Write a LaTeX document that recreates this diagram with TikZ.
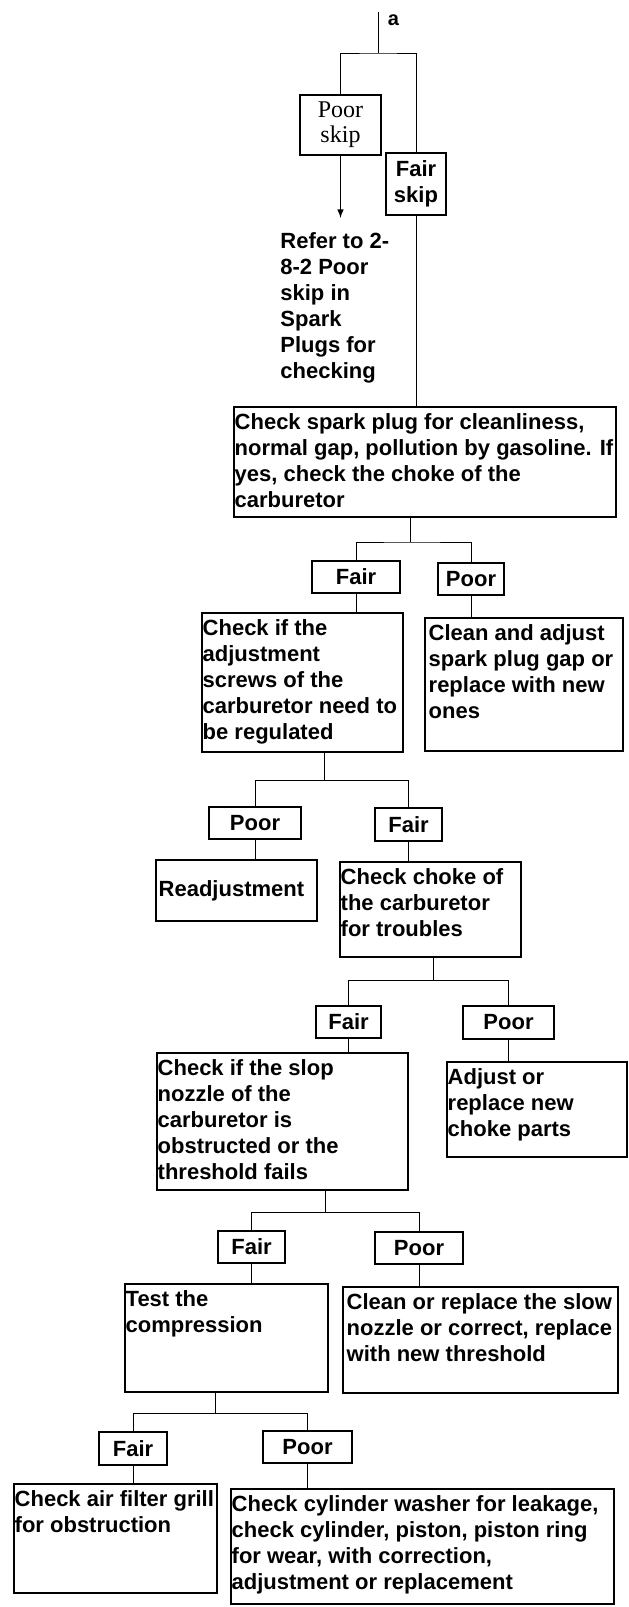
\documentclass[tikz,border=0pt]{standalone}
\usepackage{fontspec}
\setmainfont{Liberation Serif}
\setsansfont{Liberation Sans}
\usetikzlibrary{fit}

\begin{document}
\begin{tikzpicture}[x=0.5pt,y=-0.5pt,
	box/.style={draw, line width=0.7pt, inner sep=0pt},
	tag/.style={draw, line width=0.7pt, inner sep=0pt, align=center, font=\sffamily\bfseries\fontsize{11}{13}\selectfont},
	txt/.style={anchor=north west, align=left, inner xsep=0.5pt, inner ysep=3.5pt, font=\sffamily\bfseries\fontsize{11}{13}\selectfont},
	wire/.style={line width=0.5pt}]

\useasboundingbox (0,0) rectangle (628,1607);

% start
\coordinate (a0) at (378,12);
\coordinate (j0) at (378,53);
\node[inner sep=0pt, font=\sffamily\bfseries\fontsize{10}{12}\selectfont] (lbla) at (393.5,20) {a};

\node[tag, minimum width=40.5pt, minimum height=30pt, font=\rmfamily\fontsize{12}{12.5}\selectfont] (pskip) at (340.5,125) {Poor\\skip};
\node[tag, minimum width=30pt, minimum height=31pt] (fskip) at (416,184) {Fair\\skip};

\coordinate (rtip) at (340.5,218);
\node[txt] (refer) at (279,225) {Refer to 2-\\8-2 Poor\\skip in\\Spark\\Plugs for\\checking};

\draw[wire] (a0) -- (j0);
\draw[wire] (pskip.north) |- (j0) -| (fskip.north);
\draw[wire,-latex] (pskip.south) -- (rtip);

% spark plug
\node[box, fit={(234,407) (616,517)}] (chk1) {};
\node[txt] (chk1t) at (chk1.north west) {Check spark plug for cleanliness,\\normal gap, pollution by gasoline. If\\yes, check the choke of the\\carburetor};
\draw[wire] (fskip.south) -- (fskip.south |- chk1.north);

\coordinate (j1) at (410,542);
\node[tag, minimum width=44pt, minimum height=16pt] (fair1) at (356,577) {Fair};
\node[tag, minimum width=33pt, minimum height=16pt] (poor1) at (471,579) {Poor};
\draw[wire] (j1 |- chk1.south) -- (j1);
\draw[wire] (fair1.north) |- (j1) -| (poor1.north);

\node[box, fit={(202,613) (403,752)}] (adj) {};
\node[txt] (adjt) at (adj.north west) {Check if the\\adjustment\\screws of the\\carburetor need to\\be regulated};
\node[box, fit={(425,618) (623,751)}] (clean1) {};
\node[txt] (clean1t) at ([xshift=1.5pt]clean1.north west) {Clean and adjust\\spark plug gap or\\replace with new\\ones};
\draw[wire] (fair1.south) -- (fair1.south |- adj.north);
\draw[wire] (poor1.south) -- (poor1.south |- clean1.north);

% adjustment screws
\coordinate (j2) at (324,780);
\node[tag, minimum width=46pt, minimum height=16pt] (poor2) at (255,823) {Poor};
\node[tag, minimum width=33.5pt, minimum height=16.5pt] (fair2) at (408.5,824.5) {Fair};
\draw[wire] (j2 |- adj.south) -- (j2);
\draw[wire] (poor2.north) |- (j2) -| (fair2.north);

\node[box, fit={(156,860) (317,921)}] (readj) {};
\node[txt, anchor=west] (readjt) at ([xshift=1pt]readj.west) {Readjustment};
\node[box, fit={(340,862) (521,957)}] (choke) {};
\node[txt] (choket) at (choke.north west) {Check choke of\\the carburetor\\for troubles};
\draw[wire] (poor2.south) -- (poor2.south |- readj.north);
\draw[wire] (fair2.south) -- (fair2.south |- choke.north);

% choke
\coordinate (j3) at (433,980);
\node[tag, minimum width=32.5pt, minimum height=16pt] (fair3) at (348.5,1022) {Fair};
\node[tag, minimum width=45.5pt, minimum height=16.5pt] (poor3) at (508.5,1022.5) {Poor};
\draw[wire] (j3 |- choke.south) -- (j3);
\draw[wire] (fair3.north) |- (j3) -| (poor3.north);

\node[box, fit={(157,1053) (408,1190)}] (slop) {};
\node[txt] (slopt) at (slop.north west) {Check if the slop\\nozzle of the\\carburetor is\\obstructed or the\\threshold fails};
\node[box, fit={(447,1062) (627,1157)}] (adjust) {};
\node[txt] (adjustt) at (adjust.north west) {Adjust or\\replace new\\choke parts};
\draw[wire] (fair3.south) -- (fair3.south |- slop.north);
\draw[wire] (poor3.south) -- (poor3.south |- adjust.north);

% slow nozzle
\coordinate (j4) at (325,1212);
\node[tag, minimum width=33.5pt, minimum height=16pt] (fair4) at (251.5,1247) {Fair};
\node[tag, minimum width=44pt, minimum height=16pt] (poor4) at (419,1248) {Poor};
\draw[wire] (j4 |- slop.south) -- (j4);
\draw[wire] (fair4.north) |- (j4) -| (poor4.north);

\node[box, fit={(125,1284) (328,1392)}] (test) {};
\node[txt] (testt) at (test.north west) {Test the\\compression};
\node[box, fit={(343,1287) (618,1393)}] (cslow) {};
\node[txt] (cslowt) at ([xshift=1.5pt]cslow.north west) {Clean or replace the slow\\nozzle or correct, replace\\with new threshold};
\draw[wire] (fair4.south) -- (fair4.south |- test.north);
\draw[wire] (poor4.south) -- (poor4.south |- cslow.north);

% compression
\coordinate (j5) at (215,1413);
\node[tag, minimum width=34pt, minimum height=16.5pt] (fair5) at (133,1448.5) {Fair};
\node[tag, minimum width=44.5pt, minimum height=16pt] (poor5) at (307.5,1447) {Poor};
\draw[wire] (j5 |- test.south) -- (j5);
\draw[wire] (fair5.north) |- (j5) -| (poor5.north);

\node[box, fit={(14,1484) (217,1593)}] (air) {};
\node[txt] (airt) at (air.north west) {Check air filter grill\\for obstruction};
\node[box, fit={(231,1489) (614,1604)}] (cyl) {};
\node[txt] (cylt) at (cyl.north west) {Check cylinder washer for leakage,\\check cylinder, piston, piston ring\\for wear, with correction,\\adjustment or replacement};
\draw[wire] (fair5.south) -- (fair5.south |- air.north);
\draw[wire] (poor5.south) -- (poor5.south |- cyl.north);

\end{tikzpicture}
\end{document}
